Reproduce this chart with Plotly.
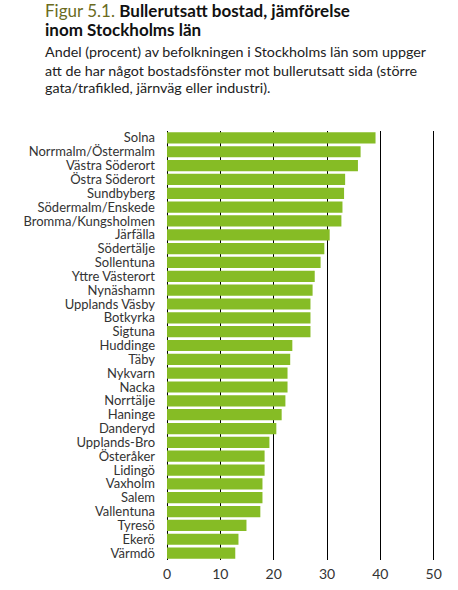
import plotly.graph_objects as go

categories = [
    "Solna", "Norrmalm/Östermalm", "Västra Söderort", "Östra Söderort", "Sundbyberg",
    "Södermalm/Enskede", "Bromma/Kungsholmen", "Järfälla", "Södertälje", "Sollentuna",
    "Yttre Västerort", "Nynäshamn", "Upplands Väsby", "Botkyrka", "Sigtuna",
    "Huddinge", "Täby", "Nykvarn", "Nacka", "Norrtälje",
    "Haninge", "Danderyd", "Upplands-Bro", "Österåker", "Lidingö",
    "Vaxholm", "Salem", "Vallentuna", "Tyresö", "Ekerö", "Värmdö",
]
values = [
    39.1, 36.3, 35.8, 33.4, 33.2,
    32.9, 32.7, 30.5, 29.5, 28.8,
    27.7, 27.3, 26.9, 26.9, 26.9,
    23.5, 23.1, 22.6, 22.6, 22.2,
    21.5, 20.5, 19.2, 18.3, 18.3,
    17.9, 17.9, 17.5, 14.9, 13.4, 12.8,
]
tick_vals = [0, 10, 20, 30, 40, 50]

title_lines = [
    "<span style='color:#6b6b1e'>Figur 5.1.</span> <b>Bullerutsatt bostad, jämförelse</b>",
    "<b>inom Stockholms län</b>",
]
subtitle_lines = [
    "Andel (procent) av befolkningen i Stockholms län som uppger",
    "att de har något bostadsfönster mot bullerutsatt sida (större",
    "gata/trafikled, järnväg eller industri).",
]

FONT = "Lato"
W, H = 458, 590
X0_PAGE, X50_PAGE = 167, 434
XMAX = 51
px_per_unit = (X50_PAGE - X0_PAGE) / 50
right_page = X0_PAGE + XMAX * px_per_unit
ML = X0_PAGE
MR = W - right_page
MT = 131
MB = H - 560

fig = go.Figure(go.Bar(
    x=values,
    y=categories,
    orientation="h",
    marker=dict(color="#86bc25", line=dict(width=0)),
    hoverinfo="skip",
))

fig.update_layout(
    width=W, height=H,
    margin=dict(l=ML, r=MR, t=MT, b=MB, autoexpand=False),
    paper_bgcolor="white", plot_bgcolor="white",
    bargap=0.19,
    showlegend=False,
    font=dict(family=FONT, size=13, color="#333333"),
    xaxis=dict(
        range=[0, XMAX], tickvals=tick_vals, showgrid=True, gridcolor="black", gridwidth=1,
        zeroline=True, zerolinecolor="black", zerolinewidth=1,
        showline=False, ticks="", tickfont=dict(size=14, color="#333333"),
        ticklabelstandoff=4, automargin=False, fixedrange=True,
    ),
    yaxis=dict(
        autorange="reversed", showgrid=False, showline=False, ticks="",
        tickmode="array", tickvals=categories, ticktext=categories,
        tickfont=dict(size=13, color="#333333"), ticklabelstandoff=11,
        automargin=False, fixedrange=True,
    ),
)

plot_h = H - MT - MB
plot_w = W - ML - MR

def ypaper(py):
    return (H - MB - py) / plot_h

def xpaper(px):
    return (px - ML) / plot_w

anns = []
title_mid = [11, 29]
for i, t in enumerate(title_lines):
    anns.append(dict(text=t, x=xpaper(44), y=ypaper(title_mid[i]), xref="paper", yref="paper",
                     xanchor="left", yanchor="middle", showarrow=False, borderpad=0,
                     font=dict(family=FONT, size=17, color="#111111")))
sub_mid = [51, 70, 88]
for i, t in enumerate(subtitle_lines):
    anns.append(dict(text=t, x=xpaper(44), y=ypaper(sub_mid[i]), xref="paper", yref="paper",
                     xanchor="left", yanchor="middle", showarrow=False, borderpad=0,
                     font=dict(family=FONT, size=14.3, color="#222222")))
fig.update_layout(annotations=anns)

fig.write_html(
    "out.html",
    config={"displayModeBar": False, "staticPlot": True},
    post_script="document.body.style.margin='0';document.body.style.overflow='hidden';",
)
